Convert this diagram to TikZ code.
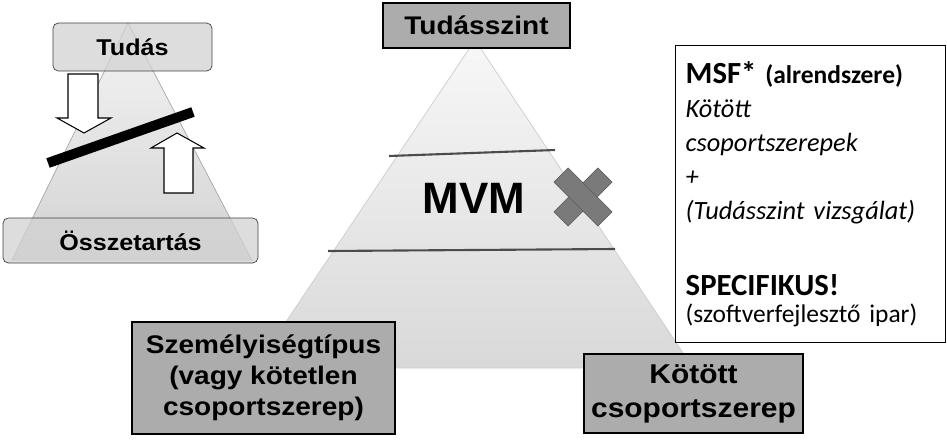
\documentclass[tikz,border=0pt]{standalone}
\usepackage{fontspec}
\newfontfamily\arialfont[FakeStretch=1.1]{Liberation Sans}
\newfontfamily\arialplain{Liberation Sans}
\newfontfamily\calibrifont{Carlito}
\usetikzlibrary{
    shapes.geometric,
    arrows.meta,
    positioning
}

\begin{document}
\begin{tikzpicture}[
        x=0.02cm, y=-0.02cm,
        labelbox/.style={draw=black, line width=1pt, fill=gray!65, align=center, inner sep=0pt, font=\arialfont\bfseries\fontsize{14.5}{17.6}\selectfont},
        softbox/.style={draw=black!75, rounded corners=3pt, fill=gray!35, fill opacity=0.75, text opacity=1, inner sep=0pt, font=\arialfont\bfseries\fontsize{13}{15}\selectfont},
        levelline/.style={draw=black!70, line width=1.2pt},
        hollowarrow/.style={draw=black, fill=white, line width=0.6pt},
        crossbar/.style={fill=black!52, draw=black!62, minimum width=1.24cm, minimum height=0.4cm, inner sep=0pt}
    ]
        \useasboundingbox (0,0) rectangle (947,440);

        % Small pyramid
        \path[shade, top color=gray!8, bottom color=gray!35, draw=gray!70] (128,23) -- (252,260) -- (12,260) -- cycle;
        \node[softbox, minimum width=3.18cm, minimum height=0.96cm] (tudas) at (132.5,47) {Tudás};
        \node[softbox, minimum width=5.1cm, minimum height=0.9cm] (ossze) at (130.5,240.5) {Összetartás};

        % Arrows and barrier
        \draw[hollowarrow] (68,74) -- (98,74) -- (98,118) -- (111,118) -- (84,133) -- (57,118) -- (68,118) -- cycle;
        \draw[hollowarrow] (164,193) -- (193,193) -- (193,148) -- (204,148) -- (177,133) -- (151,148) -- (164,148) -- cycle;
        \draw[line width=5.7pt] (48,163) -- (193,112);

        % Main pyramid
        \path[shade, top color=gray!6, bottom color=gray!30, draw=gray!40] (475,40) -- (693,368) -- (255,368) -- cycle;
        \draw[levelline] (389,156) -- (555,150);
        \draw[levelline] (328,251) -- (615,249);
        \node[font=\arialplain\bfseries\fontsize{25}{28}\selectfont] (mvm) at (474,198) {MVM};

        % Cross
        \node[crossbar, rotate=45] (crossa) at (583,197) {};
        \node[crossbar, rotate=-45] (crossb) at (583,197) {};

        % Corner labels
        \node[labelbox, minimum width=3.74cm, minimum height=0.9cm] (tudasszint) at (476.5,25.5) {Tudásszint};
        \node[labelbox, minimum width=5.26cm, minimum height=2.24cm] (szemely) at (263.5,378) {Személyiségtípus\\(vagy kötetlen\\csoportszerep)};
        \node[labelbox, minimum width=4.38cm, minimum height=1.58cm, font=\arialfont\bfseries\fontsize{15.5}{19.3}\selectfont] (kotott) at (693.5,393.5) {Kötött\\csoportszerep};

        % MSF box
        \node[draw=black, line width=0.8pt, fill=white, anchor=north west, minimum width=5.4cm, minimum height=5.94cm, text width=5.0cm, inner xsep=0.2cm, align=left, font=\calibrifont\fontsize{15}{19.3}\selectfont] (msf) at (675,45) {{\bfseries\fontsize{17.5}{19.3}\selectfont MSF*} {\bfseries\fontsize{14.5}{19.3}\selectfont (alrendszere)}\\
            {\itshape Kötött}\\
            {\itshape csoportszerepek}\\
            {\itshape +}\\
            {\itshape (Tudásszint vizsgálat)}\\[23.8pt]
            {\bfseries\fontsize{17.5}{19.3}\selectfont SPECIFIKUS!}\\[-4pt]
            {\fontsize{14.5}{19.3}\selectfont (szoftverfejlesztő ipar)}};

\end{tikzpicture}
\end{document}
